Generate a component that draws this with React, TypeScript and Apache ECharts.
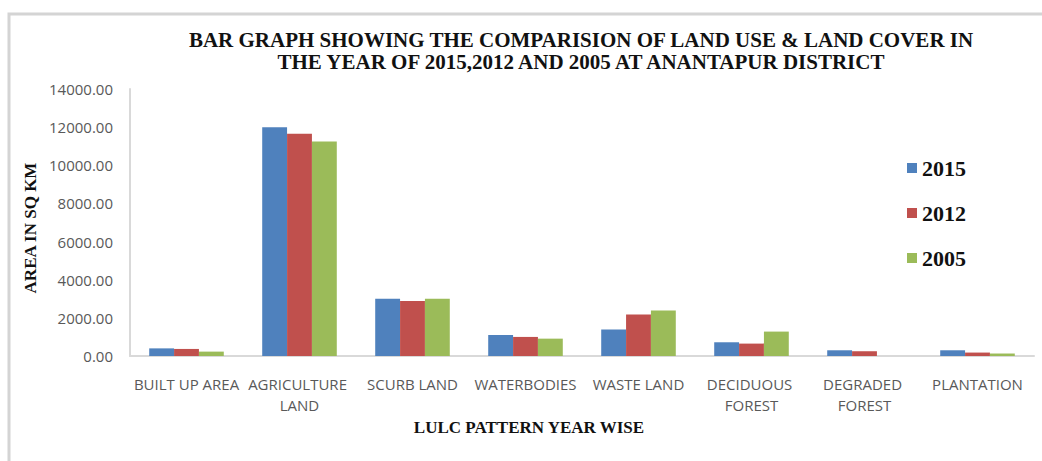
import React, { useEffect, useRef } from "react";
import * as echarts from "echarts";

const categories = [
  "BUILT UP AREA",
  "AGRICULTURE LAND",
  "SCURB LAND",
  "WATERBODIES",
  "WASTE LAND",
  "DECIDUOUS FOREST",
  "DEGRADED FOREST",
  "PLANTATION",
];
const years = ["2015", "2012", "2005"];
const values2015 = [400, 12000, 3000, 1100, 1390, 720, 300, 300];
const values2012 = [370, 11650, 2880, 1000, 2170, 650, 250, 180];
const values2005 = [230, 11250, 3000, 910, 2380, 1280, 0, 130];
const colors = ["#4F81BD", "#C0504D", "#9BBB59"];

const titleText =
  "BAR GRAPH SHOWING THE COMPARISION OF LAND USE & LAND COVER IN\nTHE YEAR OF 2015,2012 AND 2005 AT ANANTAPUR DISTRICT";
const yName = "AREA IN SQ KM";
const xName = "LULC PATTERN YEAR WISE";

export default function App() {
  const ref = useRef<HTMLDivElement>(null);
  useEffect(() => {
    if (!ref.current) return;
    const chart = echarts.init(ref.current, null, { renderer: "svg" });
    const serif = "'Liberation Serif', 'Times New Roman', serif";
    const sans = "'Open Sans', sans-serif";
    const seriesData = [values2015, values2012, values2005];
    chart.setOption({
      animation: false,
      backgroundColor: "#ffffff",
      color: colors,
      title: {
        text: titleText,
        left: 576,
        top: 24,
        textAlign: "center",
        textStyle: {
          fontFamily: serif,
          fontWeight: "bold",
          fontSize: 21,
          lineHeight: 22,
          color: "#111111",
        },
      },
      legend: {
        orient: "vertical",
        left: 902,
        top: 152,
        icon: "rect",
        itemWidth: 10,
        itemHeight: 10,
        itemGap: 23,
        data: years,
        textStyle: {
          fontFamily: serif,
          fontWeight: "bold",
          fontSize: 22,
          color: "#111111",
        },
      },
      grid: { left: 130, right: 8, top: 89, bottom: 105, containLabel: false },
      xAxis: {
        type: "category",
        data: categories,
        axisLine: { lineStyle: { color: "#d9d9d9", width: 2 } },
        axisTick: { show: false },
        axisLabel: {
          interval: 0,
          margin: 17,
          width: 113,
          overflow: "break",
          fontFamily: sans,
          fontSize: 15,
          lineHeight: 21,
          color: "#595959",
        },
      },
      yAxis: {
        type: "value",
        min: 0,
        max: 14000,
        interval: 2000,
        axisLine: { show: true, lineStyle: { color: "#d9d9d9", width: 2 } },
        axisTick: { show: false },
        splitLine: { show: false },
        axisLabel: {
          margin: 17,
          fontFamily: sans,
          fontSize: 15,
          color: "#595959",
          formatter: (v: number) => v.toFixed(2),
        },
      },
      graphic: [
        {
          type: "rect",
          shape: { x: 9, y: 14, width: 1100, height: 500 },
          style: { fill: "none", stroke: "#d4d4d4", lineWidth: 3 },
          silent: true,
        },
        {
          type: "text",
          x: 30,
          y: 228,
          rotation: Math.PI / 2,
          style: {
            text: yName,
            fontFamily: serif,
            fontWeight: "bold",
            fontSize: 17,
            fill: "#111111",
            textAlign: "center",
            textVerticalAlign: "middle",
          },
        },
        {
          type: "text",
          x: 529,
          y: 427,
          style: {
            text: xName,
            fontFamily: serif,
            fontWeight: "bold",
            fontSize: 17,
            fill: "#111111",
            textAlign: "center",
            textVerticalAlign: "middle",
          },
        },
      ],
      series: years.map((y, i) => ({
        name: y,
        type: "bar",
        data: seriesData[i],
        barGap: "0%",
        barCategoryGap: "34%",
        itemStyle: { color: colors[i] },
      })),
    });
    return () => chart.dispose();
  }, []);
  return (
    <div
      ref={ref}
      style={{ position: "fixed", left: 0, top: 0, width: 1042, height: 461 }}
    />
  );
}
